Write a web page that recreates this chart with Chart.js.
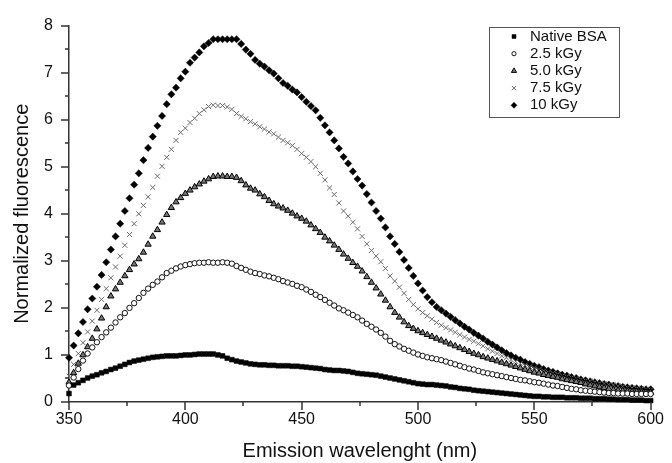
<!DOCTYPE html>
<html>
<head>
<meta charset="utf-8">
<script src="https://cdn.jsdelivr.net/npm/chart.js@4/dist/chart.umd.min.js"></script>
<style>
  html, body { margin: 0; padding: 0; background: #fff; }
  #wrap { width: 672px; height: 463px; }
</style>
</head>
<body>
<div id="wrap"><canvas id="chart" width="672" height="463"></canvas></div>
<script>
// Emission wavelength (nm), one reading every 2 nm
const wavelengths = [
  350, 352, 354, 356, 358, 360, 362, 364, 366, 368,
  370, 372, 374, 376, 378, 380, 382, 384, 386, 388,
  390, 392, 394, 396, 398, 400, 402, 404, 406, 408,
  410, 412, 414, 416, 418, 420, 422, 424, 426, 428,
  430, 432, 434, 436, 438, 440, 442, 444, 446, 448,
  450, 452, 454, 456, 458, 460, 462, 464, 466, 468,
  470, 472, 474, 476, 478, 480, 482, 484, 486, 488,
  490, 492, 494, 496, 498, 500, 502, 504, 506, 508,
  510, 512, 514, 516, 518, 520, 522, 524, 526, 528,
  530, 532, 534, 536, 538, 540, 542, 544, 546, 548,
  550, 552, 554, 556, 558, 560, 562, 564, 566, 568,
  570, 572, 574, 576, 578, 580, 582, 584, 586, 588,
  590, 592, 594, 596, 598, 600
];

const nativeBSA = [
  0.18, 0.36, 0.41, 0.46, 0.51, 0.55, 0.58, 0.62, 0.65, 0.69,
  0.72, 0.76, 0.80, 0.84, 0.87, 0.89, 0.91, 0.93, 0.95, 0.96,
  0.97, 0.98, 0.98, 0.98, 0.99, 1.00, 1.00, 1.01, 1.02, 1.02,
  1.02, 1.02, 1.00, 0.98, 0.93, 0.90, 0.87, 0.85, 0.83, 0.81,
  0.80, 0.79, 0.79, 0.78, 0.78, 0.77, 0.77, 0.77, 0.76, 0.76,
  0.75, 0.74, 0.73, 0.72, 0.71, 0.69, 0.68, 0.67, 0.67, 0.66,
  0.65, 0.63, 0.61, 0.60, 0.59, 0.58, 0.57, 0.55, 0.53, 0.51,
  0.49, 0.47, 0.45, 0.43, 0.41, 0.39, 0.38, 0.37, 0.37, 0.36,
  0.35, 0.34, 0.32, 0.31, 0.29, 0.28, 0.27, 0.25, 0.24, 0.23,
  0.22, 0.21, 0.20, 0.19, 0.18, 0.17, 0.16, 0.15, 0.14, 0.13,
  0.12, 0.12, 0.11, 0.11, 0.10, 0.10, 0.10, 0.09, 0.09, 0.09,
  0.08, 0.08, 0.08, 0.07, 0.07, 0.07, 0.06, 0.06, 0.05, 0.05,
  0.05, 0.04, 0.04, 0.04, 0.03, 0.03
];

const dose25 = [
  0.35, 0.52, 0.70, 0.88, 1.03, 1.16, 1.27, 1.38, 1.48, 1.58,
  1.69, 1.80, 1.89, 2.00, 2.10, 2.21, 2.32, 2.41, 2.49, 2.56,
  2.65, 2.74, 2.79, 2.84, 2.88, 2.91, 2.93, 2.95, 2.96, 2.96,
  2.97, 2.96, 2.96, 2.97, 2.96, 2.94, 2.89, 2.85, 2.81, 2.77,
  2.74, 2.72, 2.69, 2.67, 2.64, 2.61, 2.57, 2.54, 2.51, 2.47,
  2.44, 2.39, 2.34, 2.28, 2.23, 2.17, 2.11, 2.05, 1.99, 1.95,
  1.90, 1.85, 1.80, 1.73, 1.66, 1.60, 1.54, 1.47, 1.39, 1.30,
  1.23, 1.18, 1.13, 1.09, 1.05, 1.01, 0.98, 0.95, 0.93, 0.91,
  0.89, 0.86, 0.83, 0.80, 0.77, 0.74, 0.71, 0.69, 0.66, 0.63,
  0.61, 0.59, 0.57, 0.55, 0.53, 0.51, 0.49, 0.47, 0.46, 0.44,
  0.42, 0.41, 0.39, 0.37, 0.35, 0.34, 0.32, 0.30, 0.28, 0.27,
  0.25, 0.24, 0.23, 0.22, 0.21, 0.20, 0.19, 0.19, 0.18, 0.18,
  0.18, 0.17, 0.17, 0.17, 0.17, 0.17
];

const dose50 = [
  0.42, 0.62, 0.82, 1.00, 1.17, 1.35, 1.55, 1.78, 2.02, 2.25,
  2.40, 2.54, 2.68, 2.81, 2.93, 3.04, 3.18, 3.35, 3.52, 3.66,
  3.82, 3.98, 4.13, 4.25, 4.34, 4.43, 4.50, 4.57, 4.63, 4.69,
  4.74, 4.79, 4.80, 4.80, 4.79, 4.79, 4.77, 4.70, 4.61, 4.54,
  4.50, 4.42, 4.36, 4.28, 4.21, 4.16, 4.12, 4.07, 4.01, 3.95,
  3.90, 3.84, 3.76, 3.68, 3.60, 3.50, 3.42, 3.33, 3.24, 3.14,
  3.05, 2.96, 2.88, 2.78, 2.66, 2.54, 2.42, 2.29, 2.16, 2.02,
  1.90, 1.80, 1.70, 1.62, 1.56, 1.51, 1.47, 1.43, 1.39, 1.35,
  1.31, 1.27, 1.23, 1.19, 1.15, 1.11, 1.07, 1.03, 1.00, 0.96,
  0.93, 0.90, 0.87, 0.84, 0.81, 0.78, 0.75, 0.72, 0.69, 0.66,
  0.63, 0.61, 0.58, 0.56, 0.54, 0.52, 0.49, 0.47, 0.45, 0.43,
  0.41, 0.38, 0.36, 0.34, 0.32, 0.30, 0.28, 0.26, 0.25, 0.24,
  0.23, 0.22, 0.22, 0.21, 0.21, 0.20
];

const dose75 = [
  0.55, 0.80, 1.03, 1.26, 1.49, 1.72, 1.95, 2.18, 2.41, 2.64,
  2.87, 3.10, 3.33, 3.56, 3.79, 4.00, 4.18, 4.36, 4.56, 4.80,
  5.01, 5.20, 5.37, 5.56, 5.73, 5.82, 5.94, 6.03, 6.13, 6.21,
  6.28, 6.31, 6.30, 6.30, 6.27, 6.22, 6.13, 6.07, 6.02, 5.96,
  5.91, 5.85, 5.80, 5.74, 5.70, 5.63, 5.56, 5.51, 5.45, 5.37,
  5.28, 5.20, 5.11, 5.00, 4.86, 4.72, 4.55, 4.41, 4.23, 4.06,
  3.95, 3.82, 3.68, 3.52, 3.36, 3.22, 3.10, 2.98, 2.84, 2.68,
  2.57, 2.44, 2.31, 2.18, 2.07, 1.98, 1.90, 1.83, 1.76, 1.69,
  1.63, 1.58, 1.53, 1.48, 1.43, 1.38, 1.33, 1.29, 1.24, 1.19,
  1.13, 1.08, 1.03, 0.98, 0.94, 0.90, 0.86, 0.82, 0.78, 0.75,
  0.72, 0.69, 0.66, 0.63, 0.61, 0.59, 0.56, 0.54, 0.52, 0.50,
  0.48, 0.46, 0.44, 0.42, 0.40, 0.39, 0.37, 0.36, 0.34, 0.33,
  0.31, 0.30, 0.29, 0.28, 0.27, 0.26
];

const dose10 = [
  0.94, 1.20, 1.46, 1.70, 1.97, 2.20, 2.45, 2.70, 2.97, 3.24,
  3.52, 3.79, 4.06, 4.33, 4.62, 4.86, 5.14, 5.40, 5.64, 5.87,
  6.08, 6.33, 6.54, 6.68, 6.88, 7.02, 7.21, 7.32, 7.43, 7.56,
  7.63, 7.71, 7.71, 7.71, 7.71, 7.71, 7.71, 7.61, 7.49, 7.40,
  7.27, 7.19, 7.13, 7.05, 6.98, 6.88, 6.78, 6.72, 6.64, 6.58,
  6.48, 6.38, 6.29, 6.20, 6.04, 5.88, 5.73, 5.56, 5.39, 5.21,
  5.07, 4.90, 4.74, 4.60, 4.42, 4.24, 4.06, 3.90, 3.71, 3.52,
  3.36, 3.19, 3.02, 2.85, 2.68, 2.52, 2.37, 2.23, 2.12, 2.02,
  1.95, 1.88, 1.81, 1.74, 1.67, 1.60, 1.54, 1.47, 1.41, 1.35,
  1.28, 1.22, 1.16, 1.10, 1.04, 0.99, 0.94, 0.90, 0.85, 0.81,
  0.77, 0.74, 0.70, 0.67, 0.64, 0.61, 0.58, 0.56, 0.53, 0.51,
  0.48, 0.46, 0.44, 0.42, 0.40, 0.38, 0.37, 0.35, 0.34, 0.32,
  0.31, 0.30, 0.29, 0.28, 0.27, 0.27
];

const seriesNames = ['Native BSA', '2.5 kGy', '5.0 kGy', '7.5 kGy', '10 kGy'];

// axis ticks
const xMajorTicks = [350, 400, 450, 500, 550, 600];
const xMinorTicks = [375, 425, 475, 525, 575];
const yMajorTicks = [0, 1, 2, 3, 4, 5, 6, 7, 8];
const yMinorTicks = [0.5, 1.5, 2.5, 3.5, 4.5, 5.5, 6.5, 7.5];

const FONT = "'Liberation Sans', Arial, sans-serif";

function toPoints(values) {
    return values.map((v, i) => ({ x: wavelengths[i], y: v }));
}

// marker style per series
const markerStyles = [
    { pointStyle: 'rect', radius: 3.4, fill: '#000', stroke: '#000', width: 0.5 },
    { pointStyle: 'circle', radius: 2.7, fill: '#fff', stroke: '#111', width: 1 },
    { pointStyle: 'triangle', radius: 3.6, fill: '#777', stroke: '#000', width: 1 },
    { pointStyle: 'crossRot', radius: 3.6, fill: '#777', stroke: '#6a6a6a', width: 1 },
    { pointStyle: 'rectRot', radius: 3.6, fill: '#000', stroke: '#000', width: 0.5 }
];

const seriesValues = [nativeBSA, dose25, dose50, dose75, dose10];

const datasets = seriesValues.map((vals, i) => ({
    label: seriesNames[i],
    data: toPoints(vals),
    showLine: false,
    clip: false,
    pointStyle: markerStyles[i].pointStyle,
    pointRadius: markerStyles[i].radius,
    pointBackgroundColor: markerStyles[i].fill,
    pointBorderColor: markerStyles[i].stroke,
    pointBorderWidth: markerStyles[i].width,
    pointHoverRadius: markerStyles[i].radius
}));

// outward ticks, long for major and short for minor
const axisTicks = {
    id: 'axisTicks',
    afterDraw(chart) {
        const { ctx, scales: { x, y } } = chart;
        const bottom = y.getPixelForValue(0);
        const left = x.getPixelForValue(350);
        ctx.save();
        ctx.strokeStyle = '#333';
        ctx.lineWidth = 1.5;
        ctx.beginPath();
        xMajorTicks.forEach(v => {
            const px = Math.round(x.getPixelForValue(v));
            ctx.moveTo(px, bottom); ctx.lineTo(px, bottom + 8);
        });
        xMinorTicks.forEach(v => {
            const px = Math.round(x.getPixelForValue(v));
            ctx.moveTo(px, bottom); ctx.lineTo(px, bottom + 4);
        });
        yMajorTicks.forEach(v => {
            const py = Math.round(y.getPixelForValue(v));
            ctx.moveTo(left, py); ctx.lineTo(left - 8, py);
        });
        yMinorTicks.forEach(v => {
            const py = Math.round(y.getPixelForValue(v));
            ctx.moveTo(left, py); ctx.lineTo(left - 4, py);
        });
        ctx.stroke();
        ctx.restore();
    }
};

// boxed legend in the upper right of the plot
const boxLegend = {
    id: 'boxLegend',
    afterDraw(chart) {
        const { ctx } = chart;
        const boxX = 489, boxY = 27, boxW = 130, boxH = 90;
        ctx.save();
        ctx.fillStyle = '#fff';
        ctx.fillRect(boxX, boxY, boxW, boxH);
        ctx.strokeStyle = '#555';
        ctx.lineWidth = 1;
        ctx.strokeRect(boxX + 0.5, boxY + 0.5, boxW, boxH);
        ctx.font = '15px ' + FONT;
        ctx.textBaseline = 'middle';
        ctx.textAlign = 'left';
        seriesNames.forEach((name, i) => {
            const rowY = boxY + 9.5 + i * 17.2;
            const m = markerStyles[i];
            ctx.fillStyle = m.fill;
            ctx.strokeStyle = m.stroke;
            ctx.lineWidth = m.width;
            Chart.helpers.drawPoint(ctx, {
                pointStyle: m.pointStyle,
                radius: m.radius - 0.6,
                rotation: 0,
                borderWidth: m.width
            }, boxX + 25, rowY);
            ctx.fillStyle = '#111';
            ctx.fillText(name, boxX + 41, rowY);
        });
        ctx.restore();
    }
};

new Chart(document.getElementById('chart'), {
    type: 'scatter',
    data: { datasets: datasets },
    options: {
        responsive: false,
        animation: false,
        devicePixelRatio: 1,
        layout: { padding: { left: 0, right: 15, top: 22, bottom: 0 } },
        plugins: {
            legend: { display: false },
            tooltip: { enabled: false }
        },
        scales: {
            x: {
                type: 'linear',
                min: 350,
                max: 600,
                afterFit: scale => { scale.height = 61; },
                grid: { display: true, drawOnChartArea: false, drawTicks: false },
                border: { display: true, color: '#333', width: 1.5 },
                ticks: {
                    stepSize: 50,
                    padding: 8,
                    color: '#111',
                    font: { family: FONT, size: 16 },
                    maxRotation: 0
                },
                title: {
                    display: true,
                    text: 'Emission wavelenght (nm)',
                    color: '#111',
                    font: { family: FONT, size: 20 },
                    padding: { top: 0, bottom: 0 }
                }
            },
            y: {
                type: 'linear',
                min: 0,
                max: 8,
                afterFit: scale => { scale.width = 69; },
                grid: { display: true, drawOnChartArea: false, drawTicks: false },
                border: { display: true, color: '#333', width: 1.5 },
                ticks: {
                    stepSize: 1,
                    padding: 16,
                    color: '#111',
                    font: { family: FONT, size: 16 }
                },
                title: {
                    display: true,
                    text: 'Normalized fluorescence',
                    color: '#111',
                    font: { family: FONT, size: 20 },
                    padding: { top: 10, bottom: 0 }
                }
            }
        }
    },
    plugins: [axisTicks, boxLegend]
});
</script>
</body>
</html>
